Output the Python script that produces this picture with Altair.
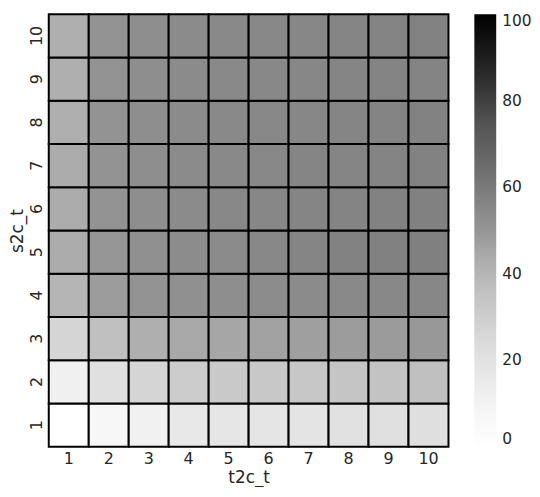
import altair as alt
import pandas as pd

t2c_values = [1, 2, 3, 4, 5, 6, 7, 8, 9, 10]
s2c_values = [1, 2, 3, 4, 5, 6, 7, 8, 9, 10]

row_1 = [0, 7, 12, 17, 18, 18.5, 19, 20.5, 21, 22]
row_2 = [12.5, 21, 27, 31, 32, 32.5, 33, 34, 35, 36]
row_3 = [27, 36, 42, 44, 45, 46, 47, 48, 48.5, 49.5]
row_4 = [40, 48, 51, 52, 53, 53.5, 54, 54.5, 55, 55.5]
row_5 = [43, 50, 52, 53.5, 54, 55, 56, 57, 57.5, 58]
row_6 = [43, 51, 53, 54, 55, 55.5, 56, 56.5, 57, 57.5]
row_7 = [43, 51, 53, 54, 54.5, 55, 56, 56, 56.5, 57]
row_8 = [42, 51, 53, 54, 54.5, 55, 55.5, 56, 56.5, 57]
row_9 = [42, 51, 53, 54, 54.5, 55, 55.5, 56, 56.5, 56.5]
row_10 = [42, 51, 53, 54, 54.5, 55, 55.5, 56, 56.5, 57]

rows = [row_1, row_2, row_3, row_4, row_5, row_6, row_7, row_8, row_9, row_10]

records = []
for s, row in zip(s2c_values, rows):
    for t, v in zip(t2c_values, row):
        records.append({"t2c_t": t, "s2c_t": s, "value": v})
df = pd.DataFrame(records)

greys = ["#ffffff", "#f0f0f0", "#d9d9d9", "#bdbdbd", "#969696",
         "#737373", "#525252", "#252525", "#000000"]
greys_domain = [0, 12.5, 25, 37.5, 50, 62.5, 75, 87.5, 100]

font = "DejaVu Sans"
txt = "#262626"

chart = alt.Chart(df).mark_rect(stroke="black", strokeWidth=2).encode(
    x=alt.X("t2c_t:O", sort=t2c_values,
            scale=alt.Scale(paddingInner=0, paddingOuter=0),
            axis=alt.Axis(title="t2c_t", labelAngle=0, ticks=False, domain=False,
                          labelFontSize=16, titleFontSize=17, labelPadding=4,
                          titlePadding=3, labelColor=txt, titleColor=txt,
                          labelFont=font, titleFont=font, titleFontWeight="normal")),
    y=alt.Y("s2c_t:O", sort=list(reversed(s2c_values)),
            scale=alt.Scale(paddingInner=0, paddingOuter=0),
            axis=alt.Axis(title="s2c_t", labelAngle=270, labelAlign="center",
                          labelBaseline="bottom", ticks=False, domain=False,
                          labelFontSize=16, titleFontSize=17, labelPadding=4,
                          titlePadding=2, labelColor=txt, titleColor=txt,
                          labelFont=font, titleFont=font, titleFontWeight="normal")),
    color=alt.Color("value:Q",
                    scale=alt.Scale(domain=greys_domain, range=greys, type="linear",
                                    interpolate="rgb"),
                    legend=alt.Legend(title=None, direction="vertical",
                                      gradientLength=435, gradientThickness=22,
                                      values=[0, 20, 40, 60, 80, 100],
                                      labelFontSize=15.5, labelColor=txt, labelFont=font,
                                      labelBaseline="middle", labelOffset=6,
                                      offset=26, gradientStrokeWidth=0)),
).properties(width=402, height=435,
             padding={"left": 1, "top": 4, "right": 0, "bottom": 0}
).configure_view(strokeWidth=0).configure_axis(grid=False)

chart.save("out.html", embed_options={"renderer": "svg", "actions": False})
